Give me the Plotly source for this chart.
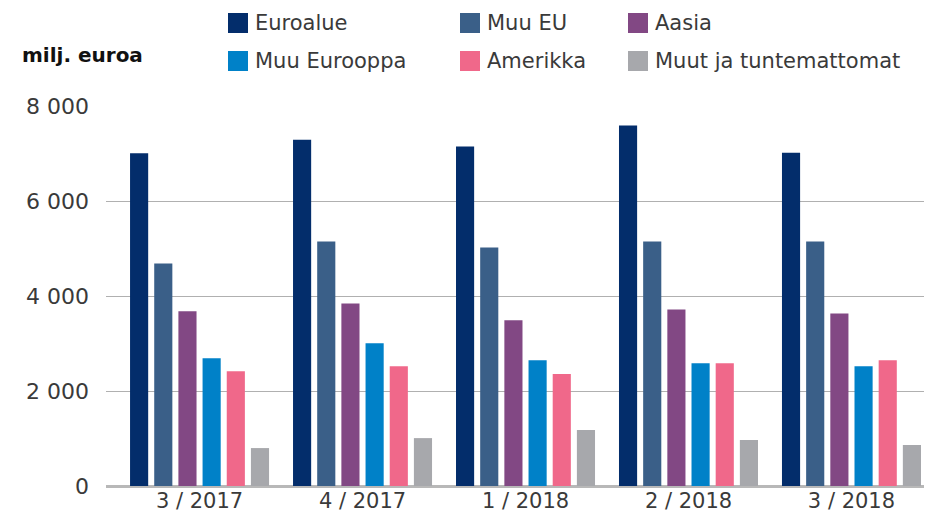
import plotly.graph_objects as go

categories = ["3 / 2017", "4 / 2017", "1 / 2018", "2 / 2018", "3 / 2018"]
series_names = ["Euroalue", "Muu EU", "Aasia", "Muu Eurooppa", "Amerikka", "Muut ja tuntemattomat"]
euroalue = [7020, 7305, 7160, 7605, 7030]
muu_eu = [4695, 5155, 5030, 5155, 5155]
aasia = [3685, 3850, 3495, 3725, 3640]
muu_eurooppa = [2695, 3010, 2650, 2590, 2525]
amerikka = [2420, 2525, 2360, 2590, 2650]
muut = [800, 1010, 1180, 970, 865]
y_ticks = [0, 2000, 4000, 6000, 8000]
unit_label = "milj. euroa"

values = [euroalue, muu_eu, aasia, muu_eurooppa, amerikka, muut]
colors = ["#032d6b", "#3a5f88", "#824884", "#0081c8", "#f0688a", "#a7a8ac"]

W, H = 930, 513
L, R, T, B = 106, 6, 106, 27
pw, ph = W - L - R, H - T - B


def px_x(x):
    return (x - L) / pw


def px_y(y):
    return (H - B - y) / ph


fig = go.Figure()
for name, vals, col in zip(series_names, values, colors):
    fig.add_trace(go.Bar(x=categories, y=vals, name=name, marker_color=col,
                         marker_line_width=0, showlegend=False))

font_family = "'DejaVu Sans', 'Noto Sans', sans-serif"
text_color = "#3a3a3a"

# manual legend (2 rows x 3 columns)
legend_cols = [228, 460, 628]
legend_rows = [23, 61]
shapes = []
annotations = []
for i, (name, col) in enumerate(zip(series_names, colors)):
    r, c = divmod(i, 3)
    x0 = legend_cols[c]
    yc = legend_rows[r]
    shapes.append(dict(type="rect", xref="paper", yref="paper",
                       x0=px_x(x0), x1=px_x(x0 + 20), y0=px_y(yc + 10), y1=px_y(yc - 10),
                       fillcolor=col, line_width=0))
    annotations.append(dict(xref="paper", yref="paper", x=px_x(x0 + 25), y=px_y(yc),
                            xanchor="left", yanchor="middle", text=name, showarrow=False,
                            font=dict(family=font_family, size=21, color=text_color)))

annotations.append(dict(xref="paper", yref="paper", x=px_x(20), y=px_y(55),
                        xanchor="left", yanchor="middle", text="<b>" + unit_label + "</b>",
                        showarrow=False, font=dict(family=font_family, size=20, color="#111111")))

fig.update_layout(
    width=W, height=H,
    margin=dict(l=L, r=R, t=T, b=B, autoexpand=False),
    plot_bgcolor="white", paper_bgcolor="white",
    barmode="group", bargap=0.11, bargroupgap=0.25,
    separators=", ",
    font=dict(family=font_family, size=20, color=text_color),
    shapes=shapes, annotations=annotations,
    xaxis=dict(type="category", range=[-0.574, 4.445], showgrid=False, automargin=False,
               showline=False, ticks="", tickfont=dict(size=21, color=text_color)),
    yaxis=dict(range=[0, 8015], tickvals=y_ticks, tickformat=",d", automargin=False,
               showgrid=True, gridcolor="#b0b0b0", gridwidth=1.3,
               zeroline=True, zerolinecolor="#b8b8b8", zerolinewidth=2.5,
               showline=False, ticks="", ticklabelstandoff=16,
               tickfont=dict(size=22, color=text_color)),
)

fig.write_html("out.html", config={"displayModeBar": False},
               post_script="document.body.style.margin='0';")
